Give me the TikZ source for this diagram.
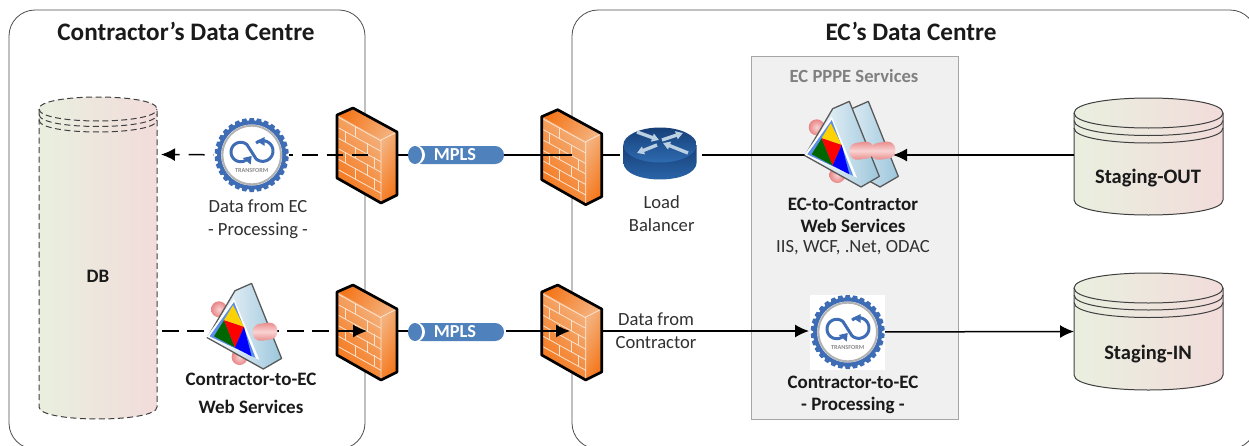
\documentclass[tikz,border=0pt]{standalone}
\usepackage{fontspec}
\setmainfont{Carlito}
\usetikzlibrary{arrows.meta,calc}
\definecolor{fwdark}{HTML}{F4761A}
\definecolor{fwlight}{HTML}{F4B27E}
\definecolor{fwline}{HTML}{FBE3CE}
\definecolor{mplsblue}{HTML}{4F81BD}
\definecolor{gearblue}{HTML}{3E6DB5}
\definecolor{cylL}{HTML}{E9EFDF}
\definecolor{cylR}{HTML}{F2DCDB}
\definecolor{txt}{HTML}{1A1A1A}
\definecolor{bodyblue}{HTML}{9CC6DC}
\definecolor{pinkb}{HTML}{E88585}
\definecolor{pinkl}{HTML}{F9D3D3}
\definecolor{triblue}{HTML}{5C8FE6}
\definecolor{rtop}{HTML}{173F78}
\definecolor{rmid}{HTML}{2D6BB0}
\definecolor{rarrow}{HTML}{BCD0E3}
\tikzset{
  x=1pt,y=-1pt,
  panel/.style={draw=black!70,line width=0.8pt,rounded corners=26pt},
  title/.style={font=\bfseries\fontsize{25.2}{27}\selectfont,text=txt,inner sep=0pt},
  lab/.style={font=\fontsize{18.6}{23}\selectfont,text=txt!90!white,align=center,inner sep=0pt},
  blab/.style={font=\bfseries\fontsize{19}{22}\selectfont,text=txt,align=center,inner sep=0pt},
  conn/.style={line width=1.5pt,black},
  dashconn/.style={line width=1.5pt,black,dash pattern=on 16pt off 9pt},
  tipend/.style={-{Latex[length=14pt,width=13pt]}},
  anchorpt/.style={inner sep=0pt,minimum size=0pt,outer sep=0pt},
  firewall/.pic={
    \shade[left color=fwdark,right color=fwlight,shading angle=60] (0,0) -- (16,-7) -- (60,17) -- (44,25) -- cycle;
    \shade[left color=fwdark,right color=fwlight,shading angle=130] (0,0) -- (44,25) -- (44,88) -- (0,63) -- cycle;
    \shade[left color=fwlight,right color=fwdark,shading angle=60] (44,25) -- (60,17) -- (60,80) -- (44,88) -- cycle;
    \foreach \c in {3.3,13.8,...,56}{\draw[fwline,line width=0.8pt] (1.5,\c-1) -- (44,\c+22.5);}
    \foreach \c/\p in {3.3/18,13.8/8,13.8/30,24.3/18,24.3/37,34.8/8,34.8/30,45.3/18,45.3/37}{
      \draw[fwline,line width=0.8pt] (\p,{\c+0.53*(\p-3)}) -- (\p,{\c+10.5+0.53*(\p-3)});}
    \draw[fwline,line width=0.8pt] (44,25) -- (44,87) (44,25) -- (59,17.5);
    \draw[black,line width=2.7pt,line join=round] (0,0) -- (16,-7) -- (60,17) -- (60,80) -- (44,88) -- (0,63) -- cycle;
  },
  gearicon/.pic={
    \fill[white] (-37.5,-37.5) rectangle (37.5,37.5);
    \foreach \a in {0,12,...,348}{\fill[gearblue,rotate=\a] (-3.2,-33) -- (-2,-37) -- (2,-37) -- (3.2,-33) -- cycle;}
    \fill[gearblue] (0,0) circle (34.5);
    \fill[white] (0,0) circle (30.5);
    \draw[black!30,line width=2pt] (0,0) circle (29.3);
    \draw[gearblue,line width=3pt,line join=round] plot[domain=40:310,samples=30] ({-11+9.7*cos(\x)},{-3+9.7*sin(\x)})
       -- plot[domain=130:-130,samples=30] ({11+10.3*cos(\x)},{-4+10.3*sin(\x)});
    \fill[gearblue] (-9,3) -- (0,1) -- (-1,9.5) -- cycle;
    \fill[gearblue] (13,-18) -- (5,-14) -- (13,-9) -- cycle;
    \node[anchorpt,font=\bfseries\fontsize{6.2}{6}\selectfont,text=black!45] at (0,15.5) {TRANSFORM};
  },
  webbody/.pic={
    \shade[left color=white,right color=bodyblue,draw=black!65,line width=1.3pt,line join=round]
      (0,0) -- (27.7,-47) -- (44.3,-54.3) -- (74.3,20.7) -- (56,31.3) -- cycle;
  },
  capsule/.pic={
    \shade[top color=pinkb,bottom color=pinkb,middle color=pinkl,rotate=8,rounded corners=8pt] (-12.5,-8.5) rectangle (12.5,8.5);
  },
  blobsmall/.pic={
    \shade[inner color=pinkl,outer color=pinkb] (0,0) circle (8);
  },
  webfront/.pic={
    \fill[white] (-0.5,-1) -- (26.7,-39) -- (52,22) -- cycle;
    \fill[triblue] (2.3,-1.4) -- (26.7,-35.7) -- (48.3,20.3) -- cycle;
    \fill[green!40!black] (6.7,-1.4) -- (16.7,-17.4) -- (27.7,9.8) -- cycle;
    \fill[yellow!85!red] (25.7,-32.4) -- (16.7,-17.4) -- (36.7,-10.7) -- cycle;
    \fill[red] (16.7,-17.4) -- (36.7,-10.7) -- (27.7,9.8) -- cycle;
    \fill[blue] (36.7,-10.7) -- (44.3,18.6) -- (27.7,9.8) -- cycle;
  },
  routericon/.pic={
    \shade[top color=rtop,bottom color=rmid]
      (-36.7,0) -- (-36.7,17) .. controls (-36.7,40.3) and (36.7,40.3) .. (36.7,17) -- (36.7,0) -- cycle;
    \shade[top color=rtop,bottom color=rmid] (0,0) ellipse (36.7 and 17.5);
    \draw[rarrow,line width=3.4pt,-{Triangle[length=7pt,width=8pt]}] (-23,-13) -- (-1,-5);
    \draw[rarrow,line width=3.4pt,-{Triangle[length=7pt,width=8pt]}] (2,-5) -- (23,-12);
    \draw[rarrow,line width=3.4pt,-{Triangle[length=7pt,width=8pt]}] (-3,0) -- (-23,8);
    \draw[rarrow,line width=3.4pt,-{Triangle[length=7pt,width=8pt]}] (28,8) -- (3,-2);
  },
  mpls/.pic={
    \fill[mplsblue,rounded corners=8.9pt] (5,-9) rectangle (96,9);
    \fill[white] (0,-10) rectangle (8,10);
    \fill[white] (7,0) ellipse (10 and 10);
    \fill[mplsblue] (7,0) ellipse (7 and 9);
    \node[anchorpt,font=\bfseries\fontsize{18.3}{20}\selectfont,text=white] at (47,-.5) {MPLS};
  },
}
% x1, x2, y of the top ellipse centre, y-radius, second arc, third arc, end of side, style
\newcommand{\cyl}[8]{%
  \shade[left color=cylL,right color=cylR]
    (#1,#3) -- (#1,#7) .. controls (#1,{#7+1.333*#4}) and (#2,{#7+1.333*#4}) .. (#2,#7) -- (#2,#3)
    .. controls (#2,{#3-1.333*#4}) and (#1,{#3-1.333*#4}) .. (#1,#3) -- cycle;
  \draw[#8] (#1,#3) -- (#1,#7) .. controls (#1,{#7+1.333*#4}) and (#2,{#7+1.333*#4}) .. (#2,#7) -- (#2,#3)
    .. controls (#2,{#3-1.333*#4}) and (#1,{#3-1.333*#4}) .. (#1,#3) -- cycle;
  \draw[#8] (#1,#3) .. controls (#1,{#3+1.333*#4}) and (#2,{#3+1.333*#4}) .. (#2,#3);
  \draw[#8] (#1,#5) .. controls (#1,{#5+1.333*#4}) and (#2,{#5+1.333*#4}) .. (#2,#5);
  \draw[#8] (#1,#6) .. controls (#1,{#6+1.333*#4}) and (#2,{#6+1.333*#4}) .. (#2,#6);
}
\begin{document}
\begin{tikzpicture}
\useasboundingbox (0,0) rectangle (1249,445);
\clip (0,0) rectangle (1249,445);
% panels
\draw[panel] (9,10) rectangle (365,449);
\draw[panel] (572,10) rectangle (1256,449);
\draw[draw=black!35,fill=black!6,line width=1pt] (751,56) rectangle (958,419);
\node[title] (t1) at (186,31) {Contractor’s Data Centre};
\node[title] (t2) at (911,31) {EC’s Data Centre};
\node[anchorpt,font=\bfseries\fontsize{18.6}{20}\selectfont,text=black!50] (t3) at (854,76) {EC PPPE Services};
% cylinders
\cyl{39}{157}{109}{12}{114.5}{120}{407}{black!75,line width=1pt,dash pattern=on 6pt off 3.5pt}
\cyl{1074}{1223}{113}{15}{120.5}{128}{200}{black!75,line width=1pt}
\cyl{1074}{1223}{288}{15}{295}{302.5}{375}{black!75,line width=1pt}
\node[blab] (db) at (98,276) {DB};
\node[blab,font=\bfseries\fontsize{20.5}{22}\selectfont] (so) at (1148,178) {Staging-OUT};
\node[blab,font=\bfseries\fontsize{20.5}{22}\selectfont] (si) at (1148,354) {Staging-IN};
% named points
\coordinate (dbT) at (157,154.5);
\coordinate (dbB) at (162,331);
\coordinate (soW) at (1074,155);
\coordinate (siW) at (1074,331.5);
\coordinate (gT) at (251.7,155);
\coordinate (gB) at (847.7,332);
\coordinate (fwA) at (337,115);
\coordinate (fwB) at (337,292);
\coordinate (fwC) at (541.7,116.7);
\coordinate (fwD) at (541.7,292);
\coordinate (wsB) at (207.3,337.7);
\coordinate (wsT) at (805,155.7);
\coordinate (rt) at (660,145);
\coordinate (rtL) at (620,155);
\coordinate (rtR) at (702,155);
\coordinate (wsTw) at (805,155);
\coordinate (mA) at (408,155);
\coordinate (mB) at (408,332);
\coordinate (aE) at (368,155);
\coordinate (aR) at (397,155);
\coordinate (bI) at (337,331);
\coordinate (bE) at (367,331);
\coordinate (bR) at (397,331);
\coordinate (cL) at (504,155);
\coordinate (cI) at (572,155);
\coordinate (dL) at (506,331);
\coordinate (dI) at (570,331);
\coordinate (cR) at (603,155);
\coordinate (dR) at (603,331);
\coordinate (tipW) at (809,331);
\coordinate (wsTe) at (893,155);
% connectors beneath the icons
\draw[dashconn,tipend,shorten >=4pt,dash phase=3pt] (gT) -- (dbT);
\draw[dashconn] (gT) -- (aE);
\draw[dashconn,dash pattern=on 17pt off 8pt] (dbB) -- (wsB |- dbB) -- (bI);
% icons
\pic at (fwA) {firewall};
\pic at (fwB) {firewall};
\pic at (fwC) {firewall};
\pic at (fwD) {firewall};
\pic at (mA) {mpls};
\pic at (mB) {mpls};
\pic at (rt) {routericon};
% connectors lying over the firewalls
\draw[dashconn,dash phase=10pt] (fwA |- aE) -- (aE);
\draw[conn] (mA) -- (aR);
\draw[conn] (mB |- bR) -- (bR);
\draw[conn] (cL) -- (cI);
\draw[conn,tipend] (dL) -- (dI);
\draw[conn,tipend] (bI) -- (bE);
\draw[conn] (cR) -- (rtL);
\draw[conn] (rtR) -- (wsTw);
\draw[conn,tipend] (dR) -- (tipW);
\draw[conn,tipend] (soW) -- (wsTe);
\draw[conn,tipend] (gB) -- (siW);
\pic at (gT) {gearicon};
\pic at (gB) {gearicon};
% web service icons
\pic at ($(wsT)+(19,0)$) {webbody};
\pic at ($(wsT)+(78,-5)$) {capsule};
\pic at ($(wsT)+(11.7,-28.4)$) {blobsmall};
\pic at ($(wsT)+(32.3,19.3)$) {blobsmall};
\pic at (wsT) {webbody};
\pic at ($(wsT)+(56.7,-5)$) {capsule};
\pic at (wsT) {webfront};
\pic at ($(wsB)+(11.7,-28.4)$) {blobsmall};
\pic at ($(wsB)+(32.3,19.3)$) {blobsmall};
\pic at (wsB) {webbody};
\pic at ($(wsB)+(57.7,-6)$) {capsule};
\pic at (wsB) {webfront};
% labels
\node[lab] (l1) at (258,219) {Data from EC\\- Processing -};
\node[lab] (l2) at (661.7,213.5) {Load\\Balancer};
\node[blab] (l3) at (853,215) {EC-to-Contractor\\Web Services};
\node[lab] (l4) at (853,248) {IIS, WCF, .Net, ODAC};
\node[lab] (l5) at (656,331) {Data from\\Contractor};
\node[blab] (l6) at (251,379) {Contractor-to-EC};
\node[blab] (l7) at (251,407) {Web Services};
\node[blab] (l8) at (853,395) {Contractor-to-EC\\- Processing -};
\end{tikzpicture}
\end{document}
